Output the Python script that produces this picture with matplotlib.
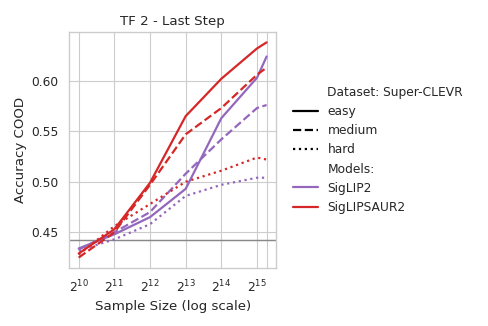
import matplotlib
matplotlib.use("Agg")
import matplotlib.pyplot as plt
import seaborn as sns
from matplotlib.lines import Line2D

sample_sizes = [1024, 2048, 4096, 8192, 16384, 32768, 39500]
siglip2_easy = [0.434, 0.448, 0.465, 0.493, 0.563, 0.603, 0.624]
siglip2_medium = [0.433, 0.450, 0.470, 0.508, 0.542, 0.573, 0.576]
siglip2_hard = [0.432, 0.443, 0.458, 0.486, 0.497, 0.504, 0.504]
saur2_easy = [0.429, 0.453, 0.499, 0.565, 0.602, 0.632, 0.638]
saur2_medium = [0.425, 0.450, 0.497, 0.547, 0.573, 0.606, 0.613]
saur2_hard = [0.428, 0.456, 0.478, 0.500, 0.511, 0.524, 0.522]
baseline = 0.442

models = ["SigLIP2", "SigLIPSAUR2"]
difficulties = ["easy", "medium", "hard"]
series = {
    ("SigLIP2", "easy"): siglip2_easy,
    ("SigLIP2", "medium"): siglip2_medium,
    ("SigLIP2", "hard"): siglip2_hard,
    ("SigLIPSAUR2", "easy"): saur2_easy,
    ("SigLIPSAUR2", "medium"): saur2_medium,
    ("SigLIPSAUR2", "hard"): saur2_hard,
}

sns.set_theme(style="whitegrid", context="notebook")
plt.rcParams['font.family'] = ['DejaVu Sans']

colors = {"SigLIP2": "#9467bd", "SigLIPSAUR2": "#d62728"}
styles = {"easy": "-", "medium": "--", "hard": ":"}
lw = 2.0

fig = plt.figure(figsize=(6.1, 4.075), dpi=80)
ax = fig.add_axes([0.142, 0.177, 0.4236, 0.726])

for m in models:
    for d in difficulties:
        ax.plot(sample_sizes, series[(m, d)], color=colors[m],
                linestyle=styles[d], linewidth=lw)

ax.axhline(baseline, color="#888888", linewidth=1.3, zorder=1.5)
ax.axvline(sample_sizes[-1], color=".8", linewidth=1.0, zorder=0.5)

ax.set_xscale("log", base=2)
ax.set_xticks([2**k for k in range(10, 16)])
ax.set_yticks([0.45, 0.50, 0.55, 0.60])
ax.set_xlabel("Sample Size (log scale)")
ax.set_ylabel("Accuracy COOD")
ax.set_title("TF 2 - Last Step")

handles = [
    Line2D([], [], linestyle="none"),
    Line2D([], [], color="black", linestyle="-", linewidth=lw),
    Line2D([], [], color="black", linestyle="--", linewidth=lw),
    Line2D([], [], color="black", linestyle=":", linewidth=lw),
    Line2D([], [], linestyle="none"),
    Line2D([], [], color=colors["SigLIP2"], linewidth=lw),
    Line2D([], [], color=colors["SigLIPSAUR2"], linewidth=lw),
]
labels = ["Dataset: Super-CLEVR", "easy", "medium", "hard", "Models:",
          "SigLIP2", "SigLIPSAUR2"]
ax.legend(handles, labels, loc="center left", bbox_to_anchor=(1.03, 0.5),
          frameon=False)

fig.savefig("out.png", dpi=80)
